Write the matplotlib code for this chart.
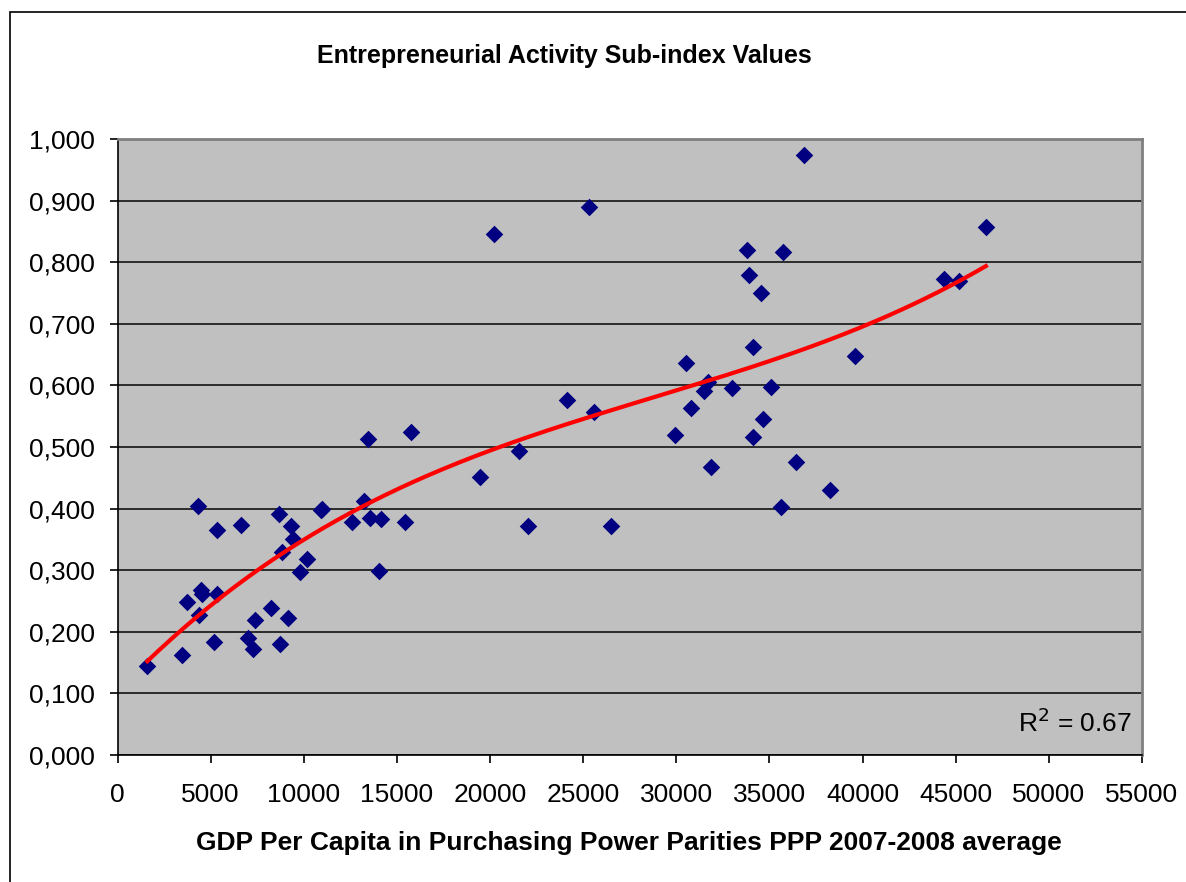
import matplotlib.pyplot as plt
import numpy as np
from matplotlib.patches import Rectangle
from matplotlib.ticker import FuncFormatter, MultipleLocator

plt.rcParams["font.family"] = ["Liberation Sans", "DejaVu Sans"]

# GDP per capita (PPP) and sub-index values
gdp = [
    1600, 3440, 3710, 4300, 4400, 4490, 4510, 5335, 5335, 5170,
    6625, 6980, 7290, 7380, 8235, 8650, 8720, 9130, 8810, 9290,
    9400, 9790, 10190, 10900, 11000, 12590, 13250, 13460, 13550, 14130,
    14040, 15420, 15770, 19440, 20210, 21560, 22040, 24150, 25310, 25590,
    26480, 29930, 30510, 30810, 31490, 31710, 31870, 33010, 33790, 33890,
    34110, 34110, 34570, 34660, 35060, 35630, 35720, 36400, 36880, 38230,
    39590, 44380, 45170, 46620,
]
activity = [
    0.145, 0.163, 0.248, 0.405, 0.228, 0.268, 0.262, 0.365, 0.261, 0.184,
    0.373, 0.190, 0.172, 0.219, 0.239, 0.391, 0.181, 0.222, 0.330, 0.371,
    0.351, 0.297, 0.318, 0.397, 0.400, 0.379, 0.412, 0.513, 0.385, 0.383,
    0.299, 0.379, 0.525, 0.452, 0.846, 0.493, 0.371, 0.577, 0.890, 0.557,
    0.371, 0.519, 0.636, 0.563, 0.591, 0.605, 0.467, 0.595, 0.819, 0.779,
    0.662, 0.516, 0.750, 0.545, 0.598, 0.402, 0.816, 0.475, 0.974, 0.431,
    0.648, 0.773, 0.770, 0.857,
]
r_squared = 0.67

title = "Entrepreneurial Activity Sub-index Values"
xlabel = "GDP Per Capita in Purchasing Power Parities PPP 2007-2008 average"

W, H = 1186, 882
fig = plt.figure(figsize=(W / 100, H / 100), dpi=100)
fig.patches.append(Rectangle((10 / W, -0.1), 1.2, (H - 12) / H + 0.1,
                             transform=fig.transFigure, fill=False,
                             edgecolor="black", lw=1.2))

ax = fig.add_axes([117.5 / W, (H - 755) / H, (1142 - 117.5) / W, (755 - 139) / H])
ax.set_facecolor("#C0C0C0")

ax.scatter(gdp, activity, marker="D", s=80, color="#000080", zorder=3,
           linewidths=0)

# third order polynomial trendline, as in the spreadsheet
coef = np.polyfit(gdp, activity, 3)
xs = np.linspace(min(gdp), max(gdp), 200)
ax.plot(xs, np.polyval(coef, xs), color="red", lw=3, zorder=4)

ax.set_xlim(0, 55000)
ax.set_ylim(0, 1.0)
ax.xaxis.set_major_locator(MultipleLocator(5000))
ax.yaxis.set_major_locator(MultipleLocator(0.1))
ax.yaxis.set_major_formatter(FuncFormatter(lambda v, _: f"{v:.3f}".replace(".", ",")))
ax.grid(axis="y", color="#202020", lw=1.3)
ax.set_axisbelow(True)
ax.tick_params(labelsize=19, length=6, width=1.2, direction="out", pad=10)
ax.tick_params(axis="x", pad=14)
for side in ("top", "right"):
    ax.spines[side].set_color("#808080")
    ax.spines[side].set_linewidth(2)
for side in ("left", "bottom"):
    ax.spines[side].set_linewidth(1.2)

ax.text(0.99, 0.053, f"R$^2$ = {r_squared:.2f}", transform=ax.transAxes,
        ha="right", va="center", fontsize=19)

fig.text(564 / W, 1 - 56 / H, title, ha="center", va="center",
         fontsize=18, fontweight="bold")
fig.text(629 / W, 1 - 843 / H, xlabel, ha="center", va="center",
         fontsize=19, fontweight="bold")

fig.savefig("out.png", dpi=100)
